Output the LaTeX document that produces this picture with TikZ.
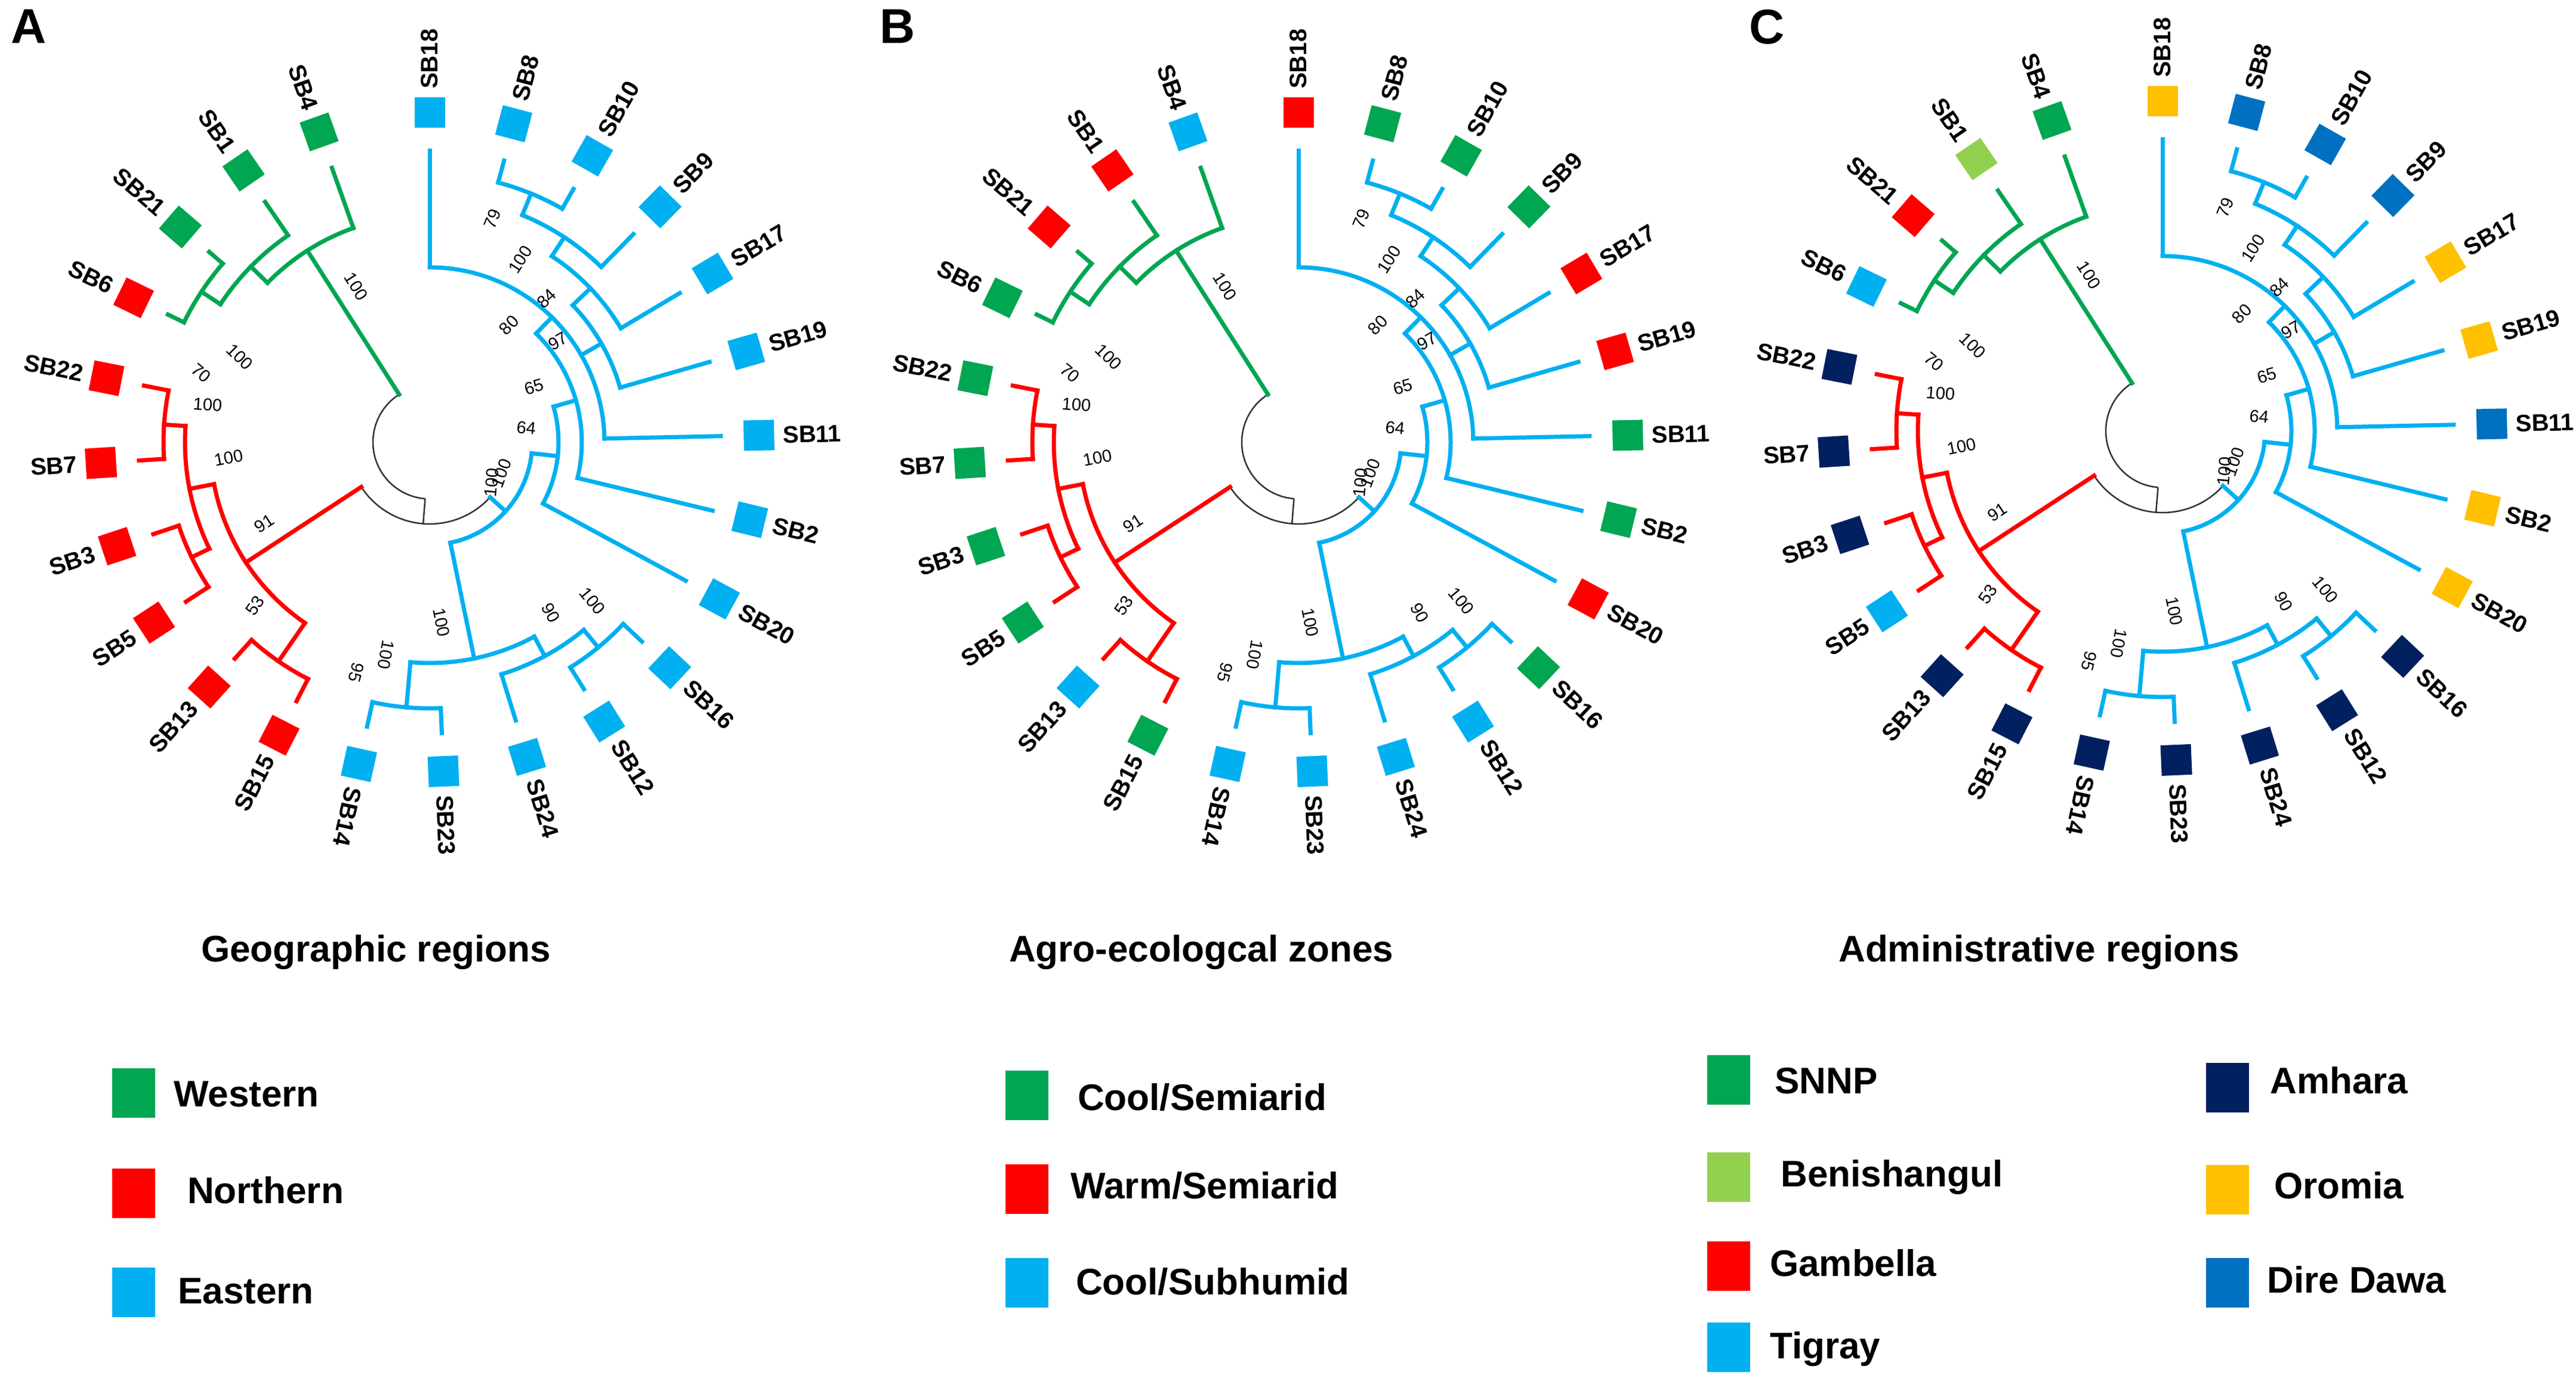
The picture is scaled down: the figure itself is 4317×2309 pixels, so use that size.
\documentclass[tikz,border=0pt]{standalone}
\usepackage{fontspec}
\setmainfont{Liberation Sans}
\definecolor{cgreen}{RGB}{0,166,81}
\definecolor{cred}{RGB}{255,0,0}
\definecolor{cblue}{RGB}{0,176,240}
\definecolor{clgreen}{RGB}{146,208,80}
\definecolor{cyellow}{RGB}{255,192,0}
\definecolor{cnavy}{RGB}{0,32,96}
\definecolor{cdblue}{RGB}{0,112,192}
\tikzset{
  br/.style={line width=7pt, line cap=rect},
  blk/.style={line width=2.5pt, draw=black!80},
  leafsq/.style={minimum size=51pt, inner sep=0pt, fill=#1, draw=none},
  leaflab/.style={font=\fontsize{40}{40}\selectfont\bfseries, inner sep=0pt},
  bs/.style={font=\fontsize{29}{29}\selectfont, inner sep=0pt},
  legsq/.style={minimum width=72pt, minimum height=83pt, inner sep=0pt, fill=#1, draw=none},
  legtxt/.style={font=\fontsize{62}{62}\selectfont\bfseries, anchor=base west, inner sep=0pt},
  paneltitle/.style={font=\fontsize{62}{62}\selectfont\bfseries, anchor=base west, inner sep=0pt},
  panelletter/.style={font=\fontsize{82}{82}\selectfont\bfseries, anchor=north west, inner sep=0pt}
}
\newcommand\tbrad[4]{\draw[br,#1] (#2:#3) -- (#2:#4);}
\newcommand\tbarc[4]{\draw[br,#1] (#2:#4) arc[start angle=#2,end angle=#3,radius=#4];}
\newcommand\treepanel[3]{%
\begin{scope}[shift={#2}]
  % black root part
  \draw[blk] (-237.45:95) arc[start angle=-237.45,end angle=-94.55,radius=95];
  \draw[blk] (-94.55:95) -- (-94.55:137);
  \draw[blk] (-146.8:137) arc[start angle=-146.8,end angle=-42.3,radius=137];
  % red clade
  \tbrad{cred}{-146.8}{137}{368}
  \tbarc{cred}{-169}{-124.6}{368}
  \tbrad{cred}{-169}{368}{410}
  \tbrad{cred}{-124.6}{368}{446}
  \tbarc{cred}{-183.8}{-154.2}{410}
  \tbrad{cred}{-183.8}{410}{446}
  \tbrad{cred}{-154.2}{410}{443}
  \tbarc{cred}{-191.2}{-176.4}{446}
  \tbarc{cred}{-161.6}{-146.8}{443}
  \tbarc{cred}{-132}{-117.2}{446}
  \tbrad{cred}{-191.2}{446}{488}
  \tbrad{cred}{-176.4}{446}{488}
  \tbrad{cred}{-161.6}{443}{488}
  \tbrad{cred}{-146.8}{443}{488}
  \tbrad{cred}{-132}{446}{488}
  \tbrad{cred}{-117.2}{446}{488}
  % green clade
  \tbrad{cgreen}{-237.45}{95}{381}
  \tbarc{cgreen}{-250.4}{-224.5}{381}
  \tbrad{cgreen}{-250.4}{381}{488}
  \tbrad{cgreen}{-224.5}{381}{420}
  \tbarc{cgreen}{-235.6}{-213.4}{420}
  \tbrad{cgreen}{-235.6}{420}{488}
  \tbrad{cgreen}{-213.4}{420}{458}
  \tbarc{cgreen}{-220.8}{-206}{458}
  \tbrad{cgreen}{-220.8}{458}{488}
  \tbrad{cgreen}{-206}{458}{488}
  % blue clade
  \tbrad{cblue}{-42.3}{137}{172}
  \tbarc{cblue}{-78.35}{-6.2}{172}
  \tbrad{cblue}{-78.35}{172}{370}
  \tbarc{cblue}{-95}{-61.7}{370}
  \tbrad{cblue}{-95}{370}{446}
  \tbarc{cblue}{-102.4}{-87.6}{446}
  \tbrad{cblue}{-102.4}{446}{488}
  \tbrad{cblue}{-87.6}{446}{488}
  \tbrad{cblue}{-61.7}{370}{407}
  \tbarc{cblue}{-72.8}{-50.6}{407}
  \tbrad{cblue}{-72.8}{407}{488}
  \tbrad{cblue}{-50.6}{407}{445}
  \tbarc{cblue}{-58}{-43.2}{445}
  \tbrad{cblue}{-58}{445}{488}
  \tbrad{cblue}{-43.2}{445}{488}
  \tbrad{cblue}{-6.2}{172}{216}
  \tbarc{cblue}{-28.4}{16}{216}
  \tbrad{cblue}{-28.4}{216}{488}
  \tbrad{cblue}{16}{216}{255}
  \tbarc{cblue}{-13.6}{45.6}{255}
  \tbrad{cblue}{-13.6}{255}{488}
  \tbrad{cblue}{45.6}{255}{293}
  \tbarc{cblue}{1.2}{90}{293}
  \tbrad{cblue}{90}{293}{488}
  \tbrad{cblue}{1.2}{293}{488}
  \tbrad{cblue}{29.875}{293}{332}
  \tbarc{cblue}{16}{43.75}{332}
  \tbrad{cblue}{16}{332}{488}
  \tbrad{cblue}{43.75}{332}{373}
  \tbarc{cblue}{30.8}{56.7}{373}
  \tbrad{cblue}{30.8}{373}{488}
  \tbrad{cblue}{56.7}{373}{411}
  \tbarc{cblue}{45.6}{67.8}{411}
  \tbrad{cblue}{45.6}{411}{488}
  \tbrad{cblue}{67.8}{411}{450}
  \tbarc{cblue}{60.4}{75.2}{450}
  \tbrad{cblue}{60.4}{450}{488}
  \tbrad{cblue}{75.2}{450}{488}
  % leaves
  \foreach \i/\n/\c in {#3}{
    \pgfmathsetmacro\ang{90-14.8*\i}
    \node[leafsq=\c, rotate=\ang] (#1-\n) at (\ang:552) {};
    \ifnum\i<14
      \node[leaflab, anchor=west, rotate=\ang] (#1-\n-t) at (\ang:592) {\n};
    \else
      \pgfmathsetmacro\angl{\ang+180}
      \node[leaflab, anchor=east, rotate=\angl] (#1-\n-t) at (\ang:592) {\n};
    \fi
  }
  % bootstrap values
  \node[bs, rotate=-57.4] at (-123,261) {100};
  \node[bs, rotate=67.8] at (105,374) {79};
  \node[bs, rotate=56.7] at (152,306) {100};
  \node[bs, rotate=43.75] at (196,241) {84};
  \node[bs, rotate=45.6] at (133,196) {80};
  \node[bs, rotate=29.9] at (215,169) {97};
  \node[bs, rotate=16] at (175,93) {65};
  \node[bs, rotate=-6.2] at (162,24) {64};
  \node[bs, rotate=85] at (104,-68) {100};
  \node[bs, rotate=70] at (120,-52) {100};
  \node[bs, rotate=-44.5] at (-318,143) {100};
  \node[bs, rotate=-40] at (-383,116) {70};
  \node[bs, rotate=-3.8] at (-372,63) {100};
  \node[bs, rotate=11] at (-337,-26) {100};
  \node[bs, rotate=33.2] at (-277,-136) {91};
  \node[bs, rotate=55.4] at (-293,-274) {53};
  \node[bs, rotate=-105] at (-123,-386) {95};
  \node[bs, rotate=-100] at (-73,-356) {100};
  \node[bs, rotate=-78.4] at (20,-302) {100};
  \node[bs, rotate=-61.7] at (203,-286) {90};
  \node[bs, rotate=-50.6] at (273,-266) {100};
\end{scope}}
\begin{document}
\begin{tikzpicture}[x=1pt,y=1pt]
\useasboundingbox (0,0) rectangle (4317,2309);
\fill[white] (0,0) rectangle (4317,2309);

\node[panelletter] (LA) at (18,2293) {A};
\node[panelletter] (LB) at (1474,2293) {B};
\node[panelletter] (LC) at (2931,2293) {C};

\treepanel{A}{(720,1568)}{0/SB18/cblue,1/SB8/cblue,2/SB10/cblue,3/SB9/cblue,4/SB17/cblue,5/SB19/cblue,6/SB11/cblue,7/SB2/cblue,8/SB20/cblue,9/SB16/cblue,10/SB12/cblue,11/SB24/cblue,12/SB23/cblue,13/SB14/cblue,14/SB15/cred,15/SB13/cred,16/SB5/cred,17/SB3/cred,18/SB7/cred,19/SB22/cred,20/SB6/cred,21/SB21/cgreen,22/SB1/cgreen,23/SB4/cgreen}
\treepanel{B}{(2176,1568)}{0/SB18/cred,1/SB8/cgreen,2/SB10/cgreen,3/SB9/cgreen,4/SB17/cred,5/SB19/cred,6/SB11/cgreen,7/SB2/cgreen,8/SB20/cred,9/SB16/cgreen,10/SB12/cblue,11/SB24/cblue,12/SB23/cblue,13/SB14/cblue,14/SB15/cgreen,15/SB13/cblue,16/SB5/cgreen,17/SB3/cgreen,18/SB7/cgreen,19/SB22/cgreen,20/SB6/cgreen,21/SB21/cred,22/SB1/cred,23/SB4/cblue}
\treepanel{C}{(3624,1587)}{0/SB18/cyellow,1/SB8/cdblue,2/SB10/cdblue,3/SB9/cdblue,4/SB17/cyellow,5/SB19/cyellow,6/SB11/cdblue,7/SB2/cyellow,8/SB20/cyellow,9/SB16/cnavy,10/SB12/cnavy,11/SB24/cnavy,12/SB23/cnavy,13/SB14/cnavy,14/SB15/cnavy,15/SB13/cnavy,16/SB5/cblue,17/SB3/cnavy,18/SB7/cnavy,19/SB22/cnavy,20/SB6/cblue,21/SB21/cred,22/SB1/clgreen,23/SB4/cgreen}

% titles
\node[paneltitle] (TA) at (337,697) {Geographic regions};
\node[paneltitle] (TB) at (1691,697) {Agro-ecologcal zones};
\node[paneltitle] (TC) at (3081,697) {Administrative regions};

% legend A
\node[legsq=cgreen] (gA1) at (223.5,477) {};
\node[legtxt] at (291,454) {Western};
\node[legsq=cred] (gA2) at (223.5,309) {};
\node[legtxt] at (314,292) {Northern};
\node[legsq=cblue] (gA3) at (223.5,143) {};
\node[legtxt] at (298,124) {Eastern};
% legend B
\node[legsq=cgreen] (gB1) at (1720.5,473) {};
\node[legtxt] at (1806,448) {Cool/Semiarid};
\node[legsq=cred] (gB2) at (1720.5,316) {};
\node[legtxt] at (1794,300) {Warm/Semiarid};
\node[legsq=cblue] (gB3) at (1720.5,159) {};
\node[legtxt] at (1803,139) {Cool/Subhumid};
% legend C
\node[legsq=cgreen] (gC1) at (2897,499) {};
\node[legtxt] at (2974,476) {SNNP};
\node[legsq=clgreen] (gC2) at (2897,336) {};
\node[legtxt] at (2984,320) {Benishangul};
\node[legsq=cred] (gC3) at (2897,187) {};
\node[legtxt] at (2966,170) {Gambella};
\node[legsq=cblue] (gC4) at (2897,51) {};
\node[legtxt] at (2966,32) {Tigray};
\node[legsq=cnavy] (gC5) at (3733,486) {};
\node[legtxt] at (3804,476) {Amhara};
\node[legsq=cyellow] (gC6) at (3733,315) {};
\node[legtxt] at (3811,300) {Oromia};
\node[legsq=cdblue] (gC7) at (3733,159) {};
\node[legtxt] at (3799,142) {Dire Dawa};
\end{tikzpicture}
\end{document}
